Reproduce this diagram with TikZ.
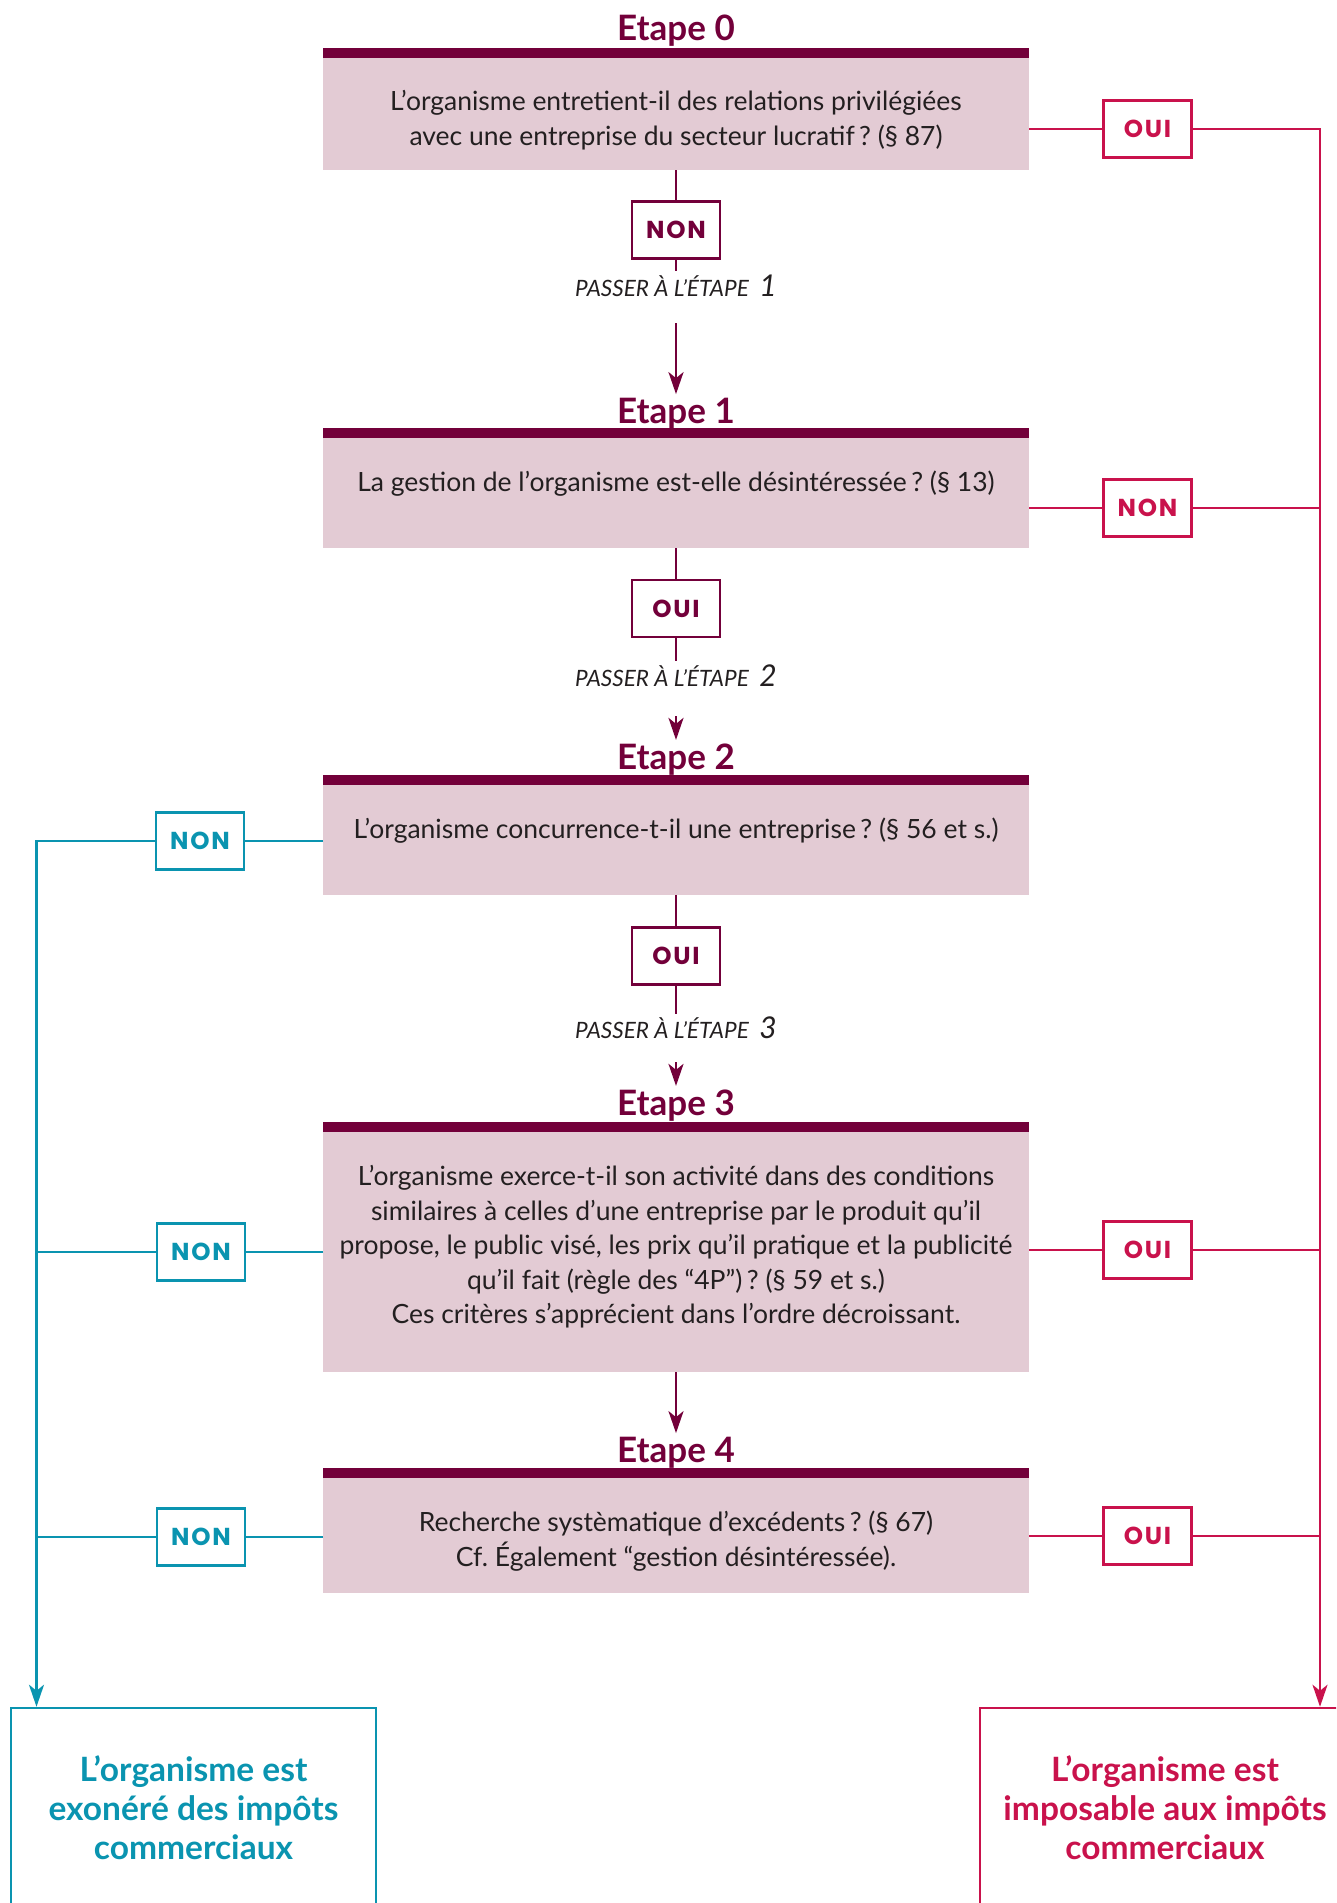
\documentclass[tikz,border=0pt]{standalone}
\usepackage{fontspec}
\setmainfont{Lato}
\newfontfamily\lblfont{Poppins}[LetterSpace=7]
\usetikzlibrary{arrows.meta}
\definecolor{etape}{RGB}{115,0,58}
\definecolor{pinkfill}{RGB}{227,203,212}
\definecolor{crim}{RGB}{201,18,76}
\definecolor{tealc}{RGB}{10,148,176}
\definecolor{bodytext}{RGB}{35,31,32}
\frenchspacing
\begin{document}
\begin{tikzpicture}[x=1pt,y=-1pt,
  bodyfont/.style={font=\fontsize{26.5}{34.5}\selectfont, text=bodytext, align=center, inner sep=0pt},
  titlefont/.style={font=\fontsize{35}{35}\selectfont\bfseries, text=etape, anchor=base},
  stepbox/.style={fill=pinkfill, draw=none, minimum width=706pt, inner sep=0pt, outer sep=0pt},
  barbox/.style={fill=etape, draw=none, minimum width=706pt, minimum height=10pt, inner sep=0pt, outer sep=0pt},
  lbl/.style={draw=#1, text=#1, fill=white, line width=2.3pt, minimum width=88pt, minimum height=57pt, inner sep=0pt, font=\lblfont\fontsize{24.5}{24.5}\selectfont\bfseries},
  conn/.style={draw=#1, line width=2.5pt},
  arr/.style={draw=#1, line width=2.5pt, -{Stealth[length=22pt,width=15pt,inset=6pt]}},
  passer/.style={font=\fontsize{22.5}{22.5}\selectfont\itshape, text=bodytext, inner sep=0pt},
  final/.style={draw=#1, text=#1, line width=2.5pt, minimum height=200pt, inner sep=0pt, font=\fontsize{33.5}{39}\selectfont\bfseries, align=center}
]
\useasboundingbox (0,0) rectangle (1336,1903);
\clip (0,0) rectangle (1336,1903);

% ---- Etape 0
\node[titlefont] (t0) at (676,40) {Etape 0};
\node[barbox] (bar0) at (676,53) {};
\node[stepbox, minimum height=112pt] (box0) at (676,114) {};
\node[bodyfont] (q0) at (676,120) {L’organisme entretient-il des relations privilégiées\\avec une entreprise du secteur lucratif\,? (§~87)};

% ---- Etape 1
\node[titlefont] (t1) at (676,423) {Etape 1};
\node[barbox] (bar1) at (676,433) {};
\node[stepbox, minimum height=110pt] (box1) at (676,493) {};
\node[bodyfont] (q1) at (676,484) {La gestion de l’organisme est-elle désintéressée\,? (§~13)};

% ---- Etape 2
\node[titlefont] (t2) at (676,769) {Etape 2};
\node[barbox] (bar2) at (676,780) {};
\node[stepbox, minimum height=110pt] (box2) at (676,840) {};
\node[bodyfont] (q2) at (676,831) {L’organisme concurrence-t-il une entreprise\,? (§~56 et s.)};

% ---- Etape 3
\node[titlefont] (t3) at (676,1115) {Etape 3};
\node[barbox] (bar3) at (676,1127) {};
\node[stepbox, minimum height=240pt] (box3) at (676,1252) {};
\node[bodyfont] (q3) at (676,1247) {L’organisme exerce-t-il son activité dans des conditions\\similaires à celles d’une entreprise par le produit qu’il\\propose, le public visé, les prix qu’il pratique et la publicité\\qu’il fait (règle des “4P”)\,? (§~59 et s.)\\Ces critères s’apprécient dans l’ordre décroissant.};

% ---- Etape 4
\node[titlefont] (t4) at (676,1462) {Etape 4};
\node[barbox] (bar4) at (676,1473) {};
\node[stepbox, minimum height=115pt] (box4) at (676,1535.5) {};
\node[bodyfont] (q4) at (676,1541) {Recherche systèmatique d’excédents\,? (§~67)\\Cf. Également “gestion désintéressée).};

% ---- central labels
\node[lbl=etape] (non0) at (676,230) {NON};
\node[lbl=etape] (oui1) at (676,608.5) {OUI};
\node[lbl=etape] (oui2) at (676,956) {OUI};
\node[passer] (p1) at (676,286) {PASSER À L’ÉTAPE\ \ {\fontsize{30}{30}\selectfont 1}};
\node[passer] (p2) at (676,676) {PASSER À L’ÉTAPE\ \ {\fontsize{30}{30}\selectfont 2}};
\node[passer] (p3) at (676,1028) {PASSER À L’ÉTAPE\ \ {\fontsize{30}{30}\selectfont 3}};

% ---- right labels
\node[lbl=crim] (oui0R) at (1147.5,129) {OUI};
\node[lbl=crim] (non1R) at (1147.5,508) {NON};
\node[lbl=crim] (oui3R) at (1147.5,1250) {OUI};
\node[lbl=crim] (oui4R) at (1147.5,1536) {OUI};

% ---- left labels
\node[lbl=tealc] (non2L) at (200,841) {NON};
\node[lbl=tealc] (non3L) at (201,1252) {NON};
\node[lbl=tealc] (non4L) at (201,1537) {NON};

% ---- final boxes
\node[final=tealc, minimum width=365pt] (exo) at (193.5,1808) {L’organisme est\\exonéré des impôts\\commerciaux};
\node[final=crim, minimum width=370pt] (impo) at (1165,1808) {L’organisme est\\imposable aux impôts\\commerciaux};

% ---- coordinates
\coordinate (e0) at (676,271);
\coordinate (a1s) at (676,323);
\coordinate (e1) at (676,661);
\coordinate (a2s) at (676,716);
\coordinate (e2) at (676,1014);
\coordinate (a3s) at (676,1062);
\coordinate (rtop) at (1320,129);
\coordinate (ltop) at (36.5,841);

% ---- central connectors
\draw[conn=etape] (box0.south) -- (non0.north);
\draw[conn=etape] (non0.south) -- (e0);
\draw[arr=etape] (a1s) -- (t1.north);
\draw[conn=etape] (box1.south) -- (oui1.north);
\draw[conn=etape] (oui1.south) -- (e1);
\draw[arr=etape] (a2s) -- (t2.north);
\draw[conn=etape] (box2.south) -- (oui2.north);
\draw[conn=etape] (oui2.south) -- (e2);
\draw[arr=etape] (a3s) -- (t3.north);
\draw[arr=etape] (box3.south) -- (t4.north);

% ---- right connectors
\draw[conn=crim] (box0.east |- oui0R) -- (oui0R.west);
\draw[arr=crim] (oui0R.east) -- (rtop) -- (impo.north -| rtop);
\draw[conn=crim] (box1.east |- non1R) -- (non1R.west);
\draw[conn=crim] (non1R.east) -- (non1R.east -| rtop);
\draw[conn=crim] (box3.east |- oui3R) -- (oui3R.west);
\draw[conn=crim] (oui3R.east) -- (oui3R.east -| rtop);
\draw[conn=crim] (box4.east |- oui4R) -- (oui4R.west);
\draw[conn=crim] (oui4R.east) -- (oui4R.east -| rtop);

% ---- left connectors
\draw[conn=tealc] (box2.west |- non2L) -- (non2L.east);
\draw[arr=tealc] (non2L.west) -- (ltop) -- (exo.north -| ltop);
\draw[conn=tealc] (box3.west |- non3L) -- (non3L.east);
\draw[conn=tealc] (non3L.west) -- (non3L.west -| ltop);
\draw[conn=tealc] (box4.west |- non4L) -- (non4L.east);
\draw[conn=tealc] (non4L.west) -- (non4L.west -| ltop);
\end{tikzpicture}
\end{document}
